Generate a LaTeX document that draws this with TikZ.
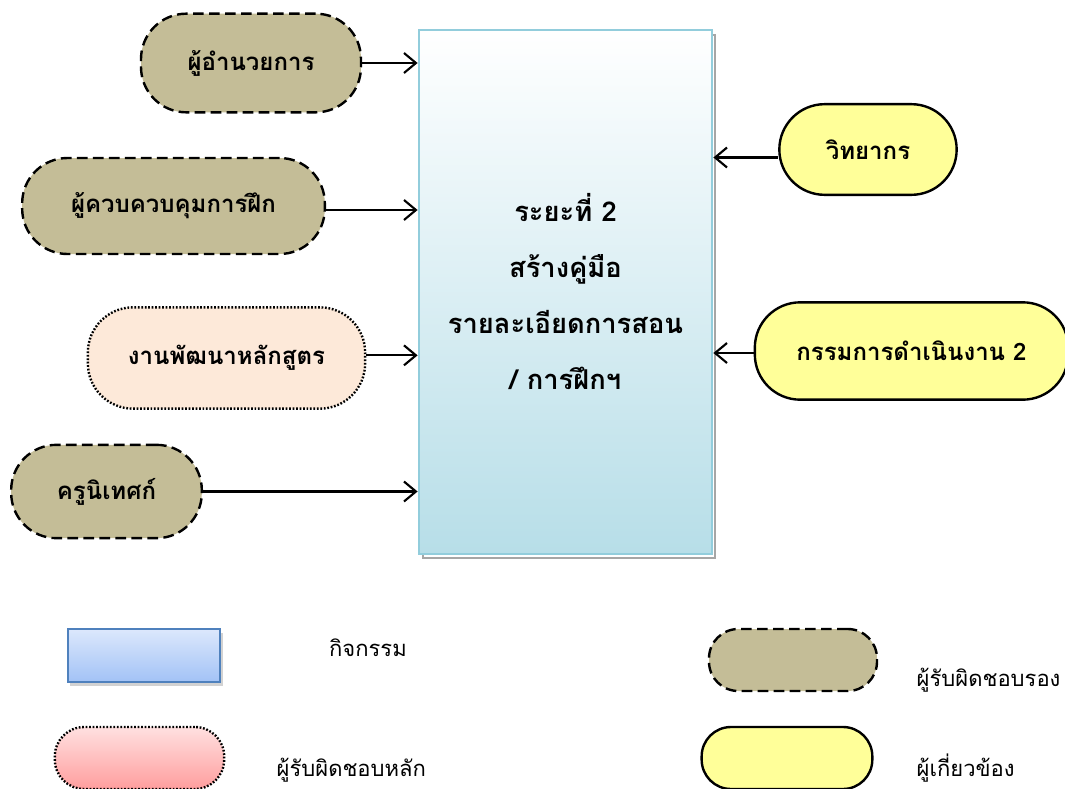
\documentclass[tikz,border=0pt]{standalone}
\usepackage{fontspec}
\newfontfamily\thai[Script=Thai]{Loma}
\usetikzlibrary{arrows.meta,positioning}

\definecolor{tan}{HTML}{C4BD97}
\definecolor{peach}{HTML}{FDE9D9}
\definecolor{lemon}{HTML}{FFFF99}
\definecolor{boxline}{HTML}{92CDDC}
\definecolor{boxfill}{HTML}{B7DEE8}
\definecolor{acttop}{HTML}{DCE8FC}
\definecolor{actbot}{HTML}{A2C2F6}
\definecolor{actline}{HTML}{4F81BD}
\definecolor{pinktop}{HTML}{FFE0E0}
\definecolor{pinkbot}{HTML}{FF9E9E}

\tikzset{
  role/.style={rectangle, rounded corners=34pt, line width=1.8pt, font=\thai\bfseries\fontsize{18}{22}\selectfont, align=center},
  second/.style={role, fill=tan, dash pattern=on 8pt off 4pt},
  mainrole/.style={role, fill=peach, dash pattern=on 1.3pt off 1.3pt},
  related/.style={role, fill=lemon, draw},
  feed/.style={line width=1.6pt, -{Straight Barb[length=9pt,width=15pt,line width=1.6pt]}},
  legtext/.style={font=\thai\fontsize{16.5}{19}\selectfont}
}

\begin{document}
\begin{tikzpicture}[x=0.75pt,y=-0.75pt]
  \clip (0,0) rectangle (1065,789);

  % phase box with its shadow
  \draw[draw=gray!70, line width=1.5pt, fill=white] (423,35) rectangle (715,558);
  \node[draw=boxline, line width=1.8pt, top color=white, bottom color=boxfill,
        minimum width=220pt, minimum height=393pt,
        font=\thai\bfseries\fontsize{20.5}{42}\selectfont, align=center] (phase) at (565.5,292)
        {ระยะที่ 2\\สร้างคู่มือ\\รายละเอียดการสอน\\/ การฝึกฯ};

  % responsible people
  \node[second, draw, minimum width=165pt, minimum height=74pt] (director) at (251,63) {ผู้อำนวยการ};
  \node[second, draw, minimum width=227pt, minimum height=72pt] (control) at (173.5,206) {ผู้ควบควบคุมการฝึก};
  \node[mainrole, draw, minimum width=208pt, minimum height=76pt] (course) at (226.5,358) {งานพัฒนาหลักสูตร};
  \node[second, draw, minimum width=143pt, minimum height=70pt] (supervisor) at (106.5,491.5) {ครูนิเทศก์};

  % related people
  \node[related, minimum width=133pt, minimum height=68pt] (lecturer) at (868,149.5) {วิทยากร};
  \node[related, minimum width=235pt, minimum height=73pt] (committee) at (911.5,351) {กรรมการดำเนินงาน 2};

  \draw[feed] (director.east) -- (director.east -| phase.west);
  \draw[feed] ([yshift=-3pt]control.east) -- ([yshift=-3pt]control.east -| phase.west);
  \draw[feed] ([yshift=2pt]course.east) -- ([yshift=2pt]course.east -| phase.west);
  \draw[feed] (supervisor.east) -- (supervisor.east -| phase.west);
  \draw[feed] ([yshift=-6pt]lecturer.west) -- ([yshift=-6pt]lecturer.west -| phase.east);
  \draw[feed] ([yshift=-1.5pt]committee.west) -- ([yshift=-1.5pt]committee.west -| phase.east);

  % legend
  \fill[gray!35] (70,633) rectangle (223,686);
  \node[draw=actline, line width=1.2pt, top color=acttop, bottom color=actbot,
        minimum width=114pt, minimum height=40pt] (legact) at (144,655.5) {};
  \node[legtext] (legacttext) at (368,648) {กิจกรรม};

  \node[role, dash pattern=on 1.3pt off 1.3pt, draw, top color=pinktop, bottom color=pinkbot,
        rounded corners=22pt, minimum width=127pt, minimum height=46.5pt] (legmain) at (139.5,758) {};
  \node[legtext, anchor=west] (legmaintext) at (272,770) {ผู้รับผิดชอบหลัก};

  \node[second, draw, rounded corners=22pt, minimum width=126pt, minimum height=46.5pt] (legsecond) at (793,660) {};
  \node[legtext, anchor=west] (legsecondtext) at (912,680) {ผู้รับผิดชอบรอง};

  \node[related, rounded corners=22pt, minimum width=128pt, minimum height=46.5pt] (legrel) at (787,758) {};
  \node[legtext, anchor=west] (legreltext) at (912,768) {ผู้เกี่ยวข้อง};
\end{tikzpicture}
\end{document}
